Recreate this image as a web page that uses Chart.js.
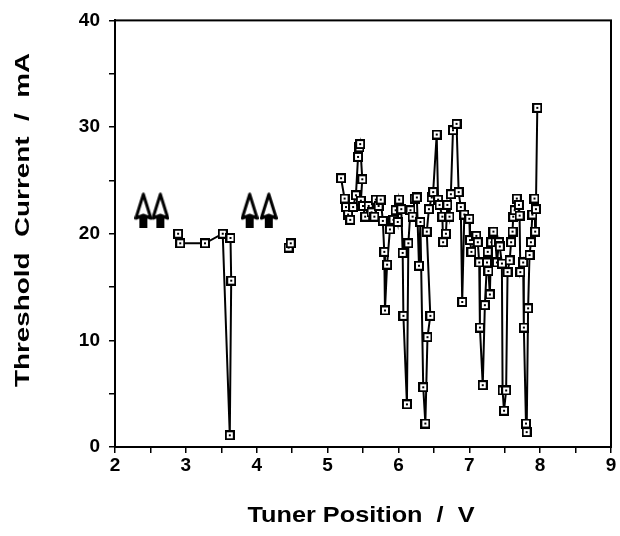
<!DOCTYPE html>
<html lang="en">
<head>
  <meta charset="UTF-8">
  <title>Threshold Current vs Tuner Position</title>
  <script src="https://cdn.jsdelivr.net/npm/chart.js"></script>
  <style>
    body { margin: 0; background: #fff; }
    #wrap { width: 620px; height: 536px; position: relative; }
  </style>
</head>
<body>
  <div id="wrap"><canvas id="chart"></canvas></div>
  <script>
    // tuner position (V) / threshold current (mA)
    const lowX = [2.89, 2.92, 3.27, 3.52, 3.62, 3.64, 3.63];
    const lowY = [20.0, 19.1, 19.1, 20.0, 1.1, 15.6, 19.6];

    const midX = [4.45, 4.48];
    const midY = [18.7, 19.1];

    const highX = [5.19, 5.24, 5.26, 5.29, 5.32, 5.36, 5.40, 5.43, 5.45, 5.46,
      5.49, 5.47, 5.50, 5.53, 5.58, 5.62, 5.66, 5.68, 5.72, 5.75,
      5.78, 5.80, 5.81, 5.84, 5.88, 5.93, 5.96, 5.99, 6.01, 6.04,
      6.06, 6.07, 6.12, 6.14, 6.17, 6.20, 6.23, 6.26, 6.29, 6.31,
      6.35, 6.38, 6.41, 6.45, 6.40, 6.43, 6.47, 6.49, 6.54, 6.56,
      6.58, 6.62, 6.63, 6.67, 6.69, 6.72, 6.74, 6.77, 6.82, 6.85,
      6.88, 6.90, 6.93, 7.00, 7.01, 7.03, 7.10, 7.12, 7.14, 7.15,
      7.19, 7.22, 7.25, 7.26, 7.27, 7.29, 7.31, 7.34, 7.37, 7.39,
      7.42, 7.43, 7.46, 7.47, 7.49, 7.52, 7.54, 7.57, 7.59, 7.61,
      7.62, 7.64, 7.67, 7.70, 7.71, 7.72, 7.76, 7.77, 7.80, 7.81,
      7.83, 7.85, 7.87, 7.89, 7.92, 7.93, 7.94, 7.96];
    const highY = [25.2, 23.3, 22.5, 21.8, 21.3, 22.5, 23.6, 27.2, 28.1, 28.4,
      25.1, 23.1, 22.6, 21.6, 22.6, 22.0, 21.6, 23.2, 22.6, 23.2,
      21.2, 18.3, 12.8, 17.1, 20.4, 21.3, 22.2, 21.1, 23.2, 22.3,
      18.2, 12.3, 4.0, 19.1, 22.2, 21.6, 23.3, 23.4, 17.0, 21.1,
      5.6, 2.2, 10.3, 12.3, 20.2, 22.3, 23.4, 23.9, 29.3, 23.2,
      22.7, 21.6, 19.2, 20.0, 22.7, 21.6, 23.7, 29.7, 30.3, 23.9,
      22.5, 13.6, 21.8, 21.4, 19.4, 18.3, 19.8, 19.2, 17.3, 11.2,
      5.8, 13.3, 17.3, 18.3, 16.5, 14.3, 19.2, 20.2, 19.2, 17.3,
      19.2, 18.8, 17.2, 5.3, 3.4, 5.3, 16.4, 17.5, 19.2, 20.2,
      21.6, 22.2, 23.3, 22.7, 21.7, 16.4, 17.3, 11.2, 2.2, 1.4,
      13.0, 18.0, 19.2, 21.8, 23.3, 20.2, 22.3, 31.8];

    // upward arrows (no threshold reached at these positions)
    const arrowX = [2.40, 2.64, 3.90, 4.17];
    const arrowY = [22.2, 22.2, 22.2, 22.2];

    const xTitle = 'Tuner Position  /  V';
    const yTitle = 'Threshold  Current  /  mA';

    const FONT = '"Liberation Sans", Arial, Helvetica, sans-serif';

    function pts(xs, ys) {
      return xs.map((x, i) => ({ x: x, y: ys[i] }));
    }

    // open square marker with a dot in the middle
    function makeMarker() {
      const c = document.createElement('canvas');
      c.width = 10; c.height = 10;
      const g = c.getContext('2d');
      g.fillStyle = '#000'; g.fillRect(0, 0, 10, 10);
      g.fillStyle = '#fff'; g.fillRect(2, 2, 6, 6);
      g.fillStyle = '#000'; g.fillRect(4, 4, 2, 2);
      return c;
    }

    function makeArrow() {
      const c = document.createElement('canvas');
      c.width = 18; c.height = 36;
      const g = c.getContext('2d');
      g.fillStyle = '#000';
      g.fillRect(5, 23, 8, 13);
      g.beginPath();
      g.moveTo(9, 2); g.lineTo(16.5, 26); g.lineTo(9, 23); g.lineTo(1.5, 26);
      g.closePath();
      g.fillStyle = '#fff'; g.fill();
      g.lineWidth = 3; g.lineJoin = 'round'; g.strokeStyle = '#000'; g.stroke();
      return c;
    }

    const marker = makeMarker();
    const arrow = makeArrow();

    function lineSet(data) {
      return {
        data: data,
        showLine: true,
        borderColor: '#000',
        borderWidth: 2,
        pointStyle: marker,
        pointRadius: 5,
        tension: 0
      };
    }

    // frame around the plot + axis titles
    const frame = {
      id: 'frame',
      afterDraw(chart) {
        const { ctx, chartArea: a } = chart;
        ctx.save();
        ctx.strokeStyle = '#000';
        ctx.lineWidth = 2;
        ctx.strokeRect(a.left, a.top, a.right - a.left, a.bottom - a.top);
        ctx.fillStyle = '#000';
        ctx.textAlign = 'center';
        ctx.textBaseline = 'alphabetic';
        fitText(ctx, xTitle, 361, 522, 227, 0, 'bold 22px ' + FONT);
        fitText(ctx, yTitle, 29, 220, 334, -Math.PI / 2, 'bold 21px ' + FONT);
        ctx.restore();
      }
    };

    function fitText(ctx, text, cx, cy, len, rot, font) {
      ctx.save();
      ctx.font = font;
      ctx.translate(cx, cy);
      ctx.rotate(rot);
      const w = ctx.measureText(text).width;
      ctx.scale(len / w, 1);
      ctx.fillText(text, 0, 0);
      ctx.restore();
    }

    const axisGrid = { drawOnChartArea: false, drawTicks: true, tickLength: 6, color: '#000', lineWidth: 1.5 };
    const axisBorder = { display: true, color: '#000', width: 2 };

    new Chart(document.getElementById('chart'), {
      type: 'scatter',
      data: {
        datasets: [
          lineSet(pts(lowX, lowY)),
          lineSet(pts(midX, midY)),
          lineSet(pts(highX, highY)),
          {
            data: pts(arrowX, arrowY),
            showLine: false,
            pointStyle: arrow,
            pointRadius: 8
          }
        ]
      },
      options: {
        responsive: true,
        maintainAspectRatio: false,
        animation: false,
        layout: { padding: { top: 19, right: 7, left: 0, bottom: 0 } },
        plugins: { legend: { display: false }, tooltip: { enabled: false } },
        scales: {
          x: {
            type: 'linear', min: 2, max: 9,
            afterFit: s => { s.height = 89; },
            grid: axisGrid,
            border: axisBorder,
            ticks: {
              stepSize: 0.5, autoSkip: false, maxRotation: 0, padding: 1,
              color: '#000', font: { family: FONT, size: 19, weight: 'bold' },
              callback: v => Number.isInteger(v) ? v : ''
            }
          },
          y: {
            type: 'linear', min: 0, max: 40,
            afterFit: s => { s.width = 115; },
            grid: axisGrid,
            border: axisBorder,
            ticks: {
              stepSize: 5, autoSkip: false, padding: 9,
              color: '#000', font: { family: FONT, size: 19, weight: 'bold' },
              callback: v => v % 10 === 0 ? v : ''
            }
          }
        }
      },
      plugins: [frame]
    });
  </script>
</body>
</html>
